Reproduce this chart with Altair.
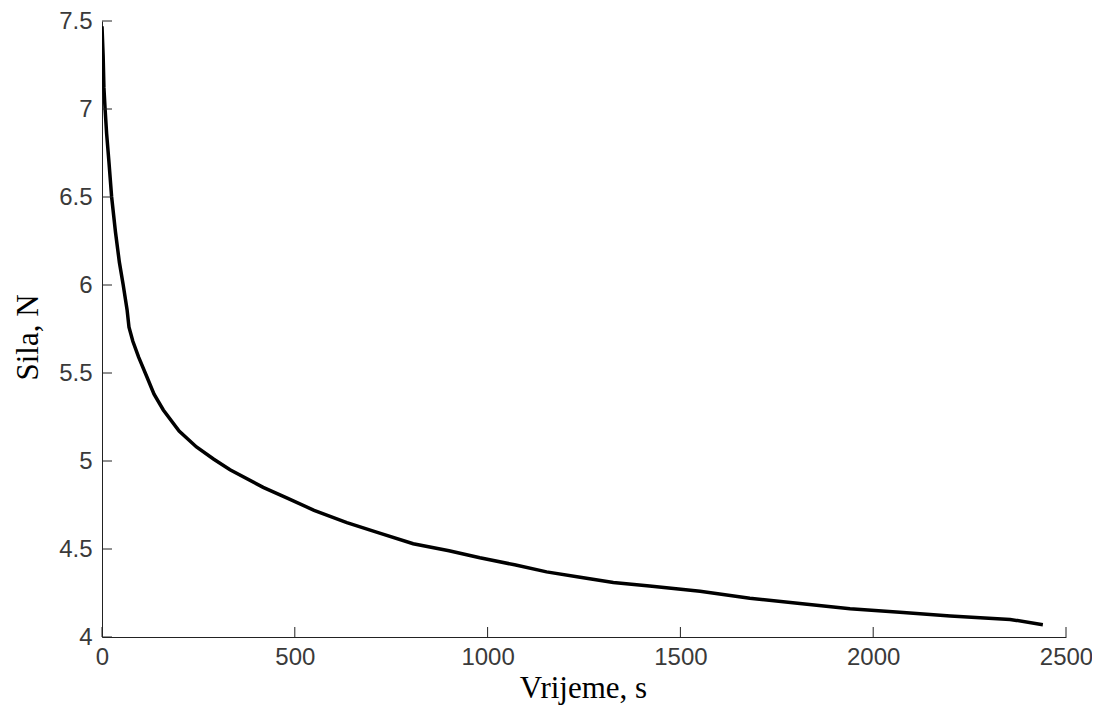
import altair as alt
import pandas as pd

# Time (s) and force (N)
time_s = [0, 3, 5, 8, 12, 18, 25, 35, 45, 55, 65, 70, 80, 95, 116, 135, 159,
          200, 245, 290, 332, 418, 479, 550, 635, 720, 807, 900, 980, 1070,
          1153, 1240, 1326, 1420, 1551, 1680, 1810, 1940, 2069, 2200, 2355, 2440]
force_n = [7.47, 7.30, 7.12, 7.00, 6.86, 6.70, 6.50, 6.30, 6.13, 6.00, 5.86, 5.76,
           5.68, 5.59, 5.48, 5.38, 5.29, 5.17, 5.08, 5.01, 4.95, 4.85, 4.79, 4.72,
           4.65, 4.59, 4.53, 4.49, 4.45, 4.41, 4.37, 4.34, 4.31, 4.29, 4.26, 4.22,
           4.19, 4.16, 4.14, 4.12, 4.10, 4.07]

x_ticks = [0, 500, 1000, 1500, 2000, 2500]
y_ticks = [4, 4.5, 5, 5.5, 6, 6.5, 7, 7.5]

W, H = 964, 616
AX = "#222222"

df = pd.DataFrame({"t": time_s, "f": force_n})
xs = alt.Scale(domain=[0, 2500], nice=False, zero=False)
ys = alt.Scale(domain=[4, 7.5], nice=False, zero=False)

label_kw = dict(labelFont="Liberation Sans", labelFontSize=24, labelColor="#3a3a3a",
                labelOverlap=False, labelBound=False, labelFlush=False,
                domainColor=AX, domainWidth=1, ticks=False, grid=False,
                titleFont="Liberation Serif", titleFontSize=31, titleColor="#000000",
                titleFontWeight="normal")

x_axis = alt.Axis(values=x_ticks, format="d", title="Vrijeme, s", labelPadding=8,
                  labelBaseline="top", titleX=481, titleY=60, titleAlign="center",
                  titleBaseline="alphabetic", **label_kw)
y_axis = alt.Axis(values=y_ticks, format="~g", title="Sila, N", labelPadding=10,
                  labelBaseline="middle", titleX=-65, titleY=316, titleAngle=270,
                  titleAlign="center", titleBaseline="alphabetic", **label_kw)

line = alt.Chart(df).mark_line(color="black", strokeWidth=3.5, clip=True).encode(
    x=alt.X("t:Q", scale=xs, axis=x_axis, title="Vrijeme, s"),
    y=alt.Y("f:Q", scale=ys, axis=y_axis, title="Sila, N"),
)

xtick = alt.Chart(pd.DataFrame({"t": x_ticks})).mark_rule(color=AX, strokeWidth=1).encode(
    x=alt.X("t:Q", scale=xs, axis=x_axis, title="Vrijeme, s"),
    y=alt.value(H), y2=alt.value(H - 10))
ytick = alt.Chart(pd.DataFrame({"f": y_ticks})).mark_rule(color=AX, strokeWidth=1).encode(
    y=alt.Y("f:Q", scale=ys, axis=y_axis, title="Sila, N"),
    x=alt.value(0), x2=alt.value(10))

chart = alt.layer(line, xtick, ytick).properties(
    width=W, height=H, autosize="none",
    padding={"left": 94, "top": 13, "right": 26, "bottom": 72},
).configure(background="white").configure_view(stroke=None)

chart.save("out.html", embed_options={"renderer": "svg", "actions": False})
